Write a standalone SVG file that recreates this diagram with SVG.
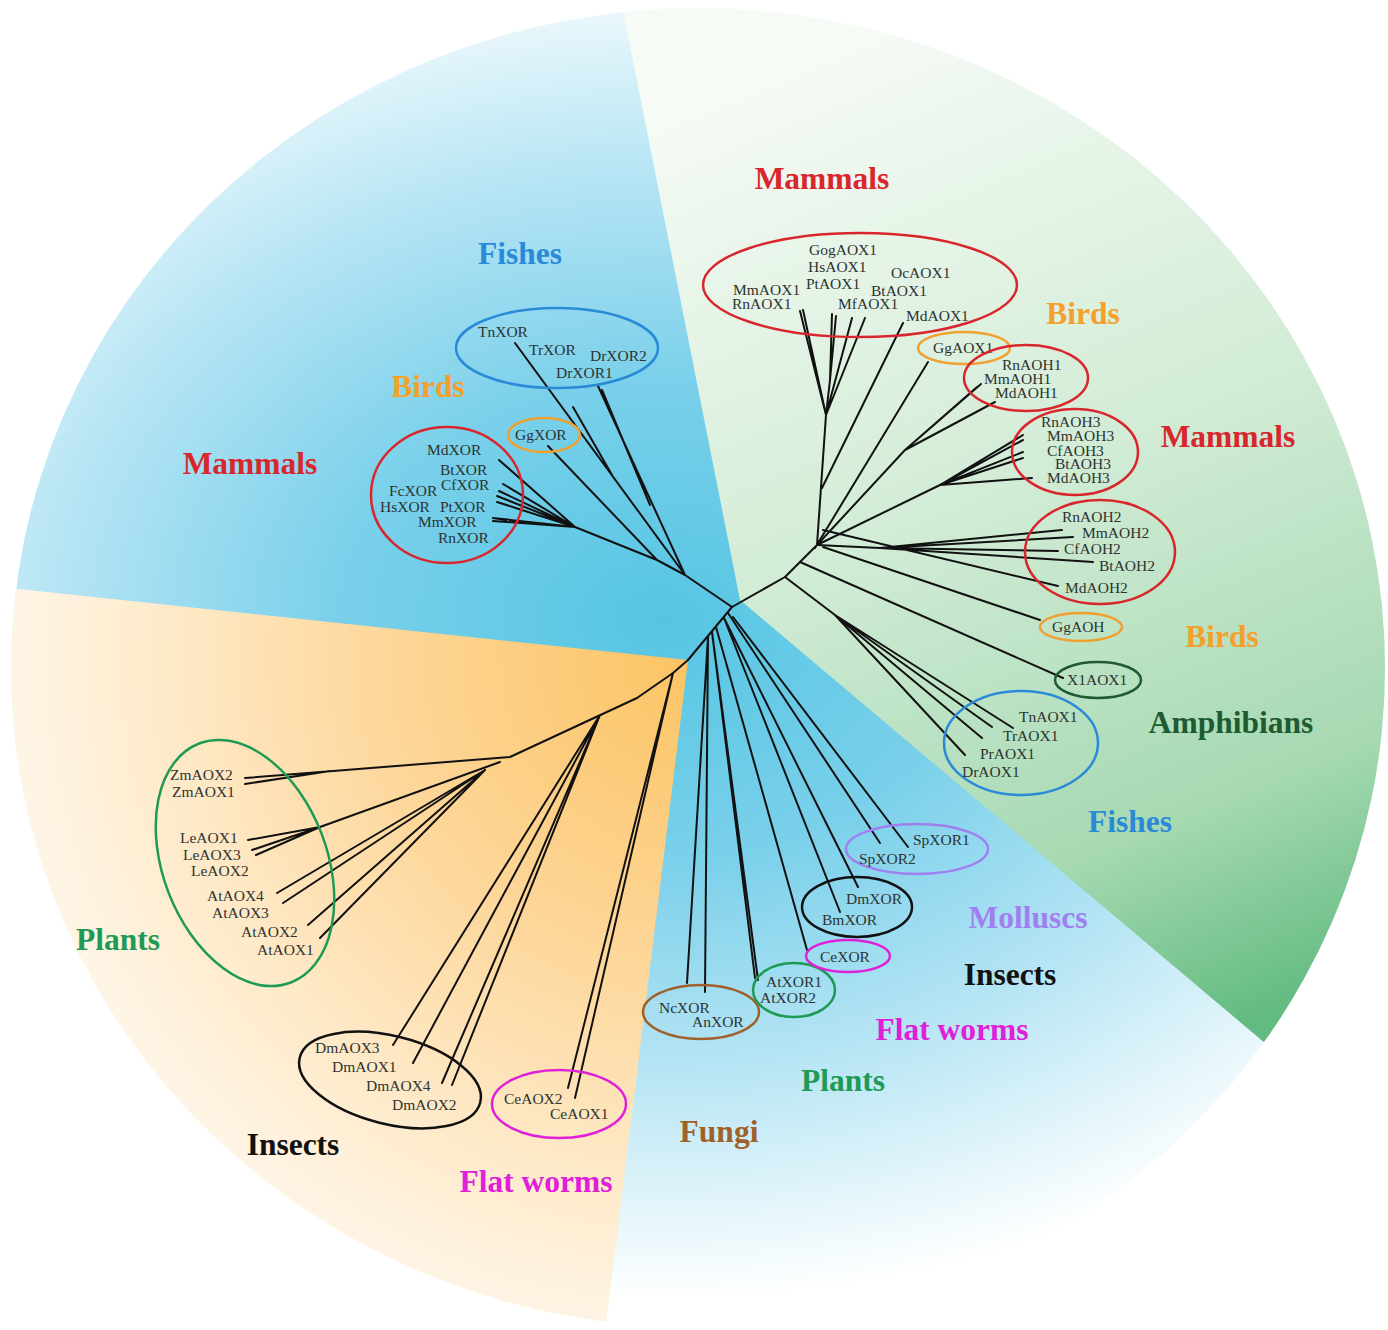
<svg xmlns="http://www.w3.org/2000/svg" width="1388" height="1330" viewBox="0 0 1388 1330">
<defs>
<radialGradient id="gBlue" gradientUnits="userSpaceOnUse" cx="0" cy="0" r="1" gradientTransform="translate(660 620) scale(920 680)">
<stop offset="0" stop-color="#55c5e3"/>
<stop offset="0.35" stop-color="#7ad0ea"/>
<stop offset="0.65" stop-color="#b4e4f4"/>
<stop offset="0.88" stop-color="#e6f6fb"/>
<stop offset="1" stop-color="#ffffff"/>
</radialGradient>
<linearGradient id="gGreen" gradientUnits="userSpaceOnUse" x1="820" y1="40" x2="1230" y2="1030">
<stop offset="0" stop-color="#f6fbf6"/>
<stop offset="0.45" stop-color="#d2ecd6"/>
<stop offset="0.8" stop-color="#a6d9b2"/>
<stop offset="1" stop-color="#62bb80"/>
</linearGradient>
<radialGradient id="gOrange" gradientUnits="userSpaceOnUse" cx="690" cy="660" r="720">
<stop offset="0" stop-color="#fcc463"/>
<stop offset="0.4" stop-color="#fdd596"/>
<stop offset="0.75" stop-color="#feebcc"/>
<stop offset="1" stop-color="#fff8ee"/>
</radialGradient>
<clipPath id="circ"><ellipse cx="698" cy="668" rx="687" ry="660"/></clipPath>
<style>
.leaf{font-family:"Liberation Serif","Times New Roman",serif;font-size:15.5px;fill:#2e3330}
.grp{font-family:"Liberation Serif","Times New Roman",serif;font-size:31.5px;font-weight:bold}
.ring{fill:none;stroke-width:2.5}
.tree{fill:none;stroke:#111;stroke-width:2;stroke-linecap:round;stroke-linejoin:round}
</style>
</defs>
<rect width="1388" height="1330" fill="#ffffff"/>
<g id="background" clip-path="url(#circ)">
<ellipse cx="698" cy="668" rx="687" ry="660" fill="url(#gBlue)"/>
<polygon points="740,600 619,-10 1400,-10 1400,1157" fill="url(#gGreen)"/>
<polygon points="688,660 -10,586 -10,1340 604,1340" fill="url(#gOrange)"/>
</g>
<g id="connectors" class="tree">
<path d="M732,607 L685,575 M685,575 L515,343 M612,475 L573,407 M685,575 L598,386 M650,505 L602,390 M685,575 L657,560 M657,560 L548,446 M657,560 L575,527 M575,527 L499,460 M575,527 L503,484 M575,527 L499,491 M560,521 L497,496 M575,527 L497,502 M575,527 L493,518 M575,527 L493,521 M493,518 L506,520"/>
<path d="M732,607 L785,577 L817,545 M817,545 L826,415 M826,415 L800,311 M826,415 L803,310 M826,415 L830,380 L832,314 M830,380 L836,316 M826,415 L852,318 M826,415 L865,318 M822,488 L903,323 M815,548 L928,362"/>
<path d="M817,545 L905,450 M905,450 L977,387 M905,450 L981,384 M905,450 L995,402 M817,545 L940,485 M940,485 L1023,435 M940,485 L1023,440 M940,485 L1023,452 M940,485 L1023,458 M940,485 L1032,478 M817,545 L880,548 M880,548 L1062,530 M880,548 L1073,537 M880,548 L1058,551 M880,548 L1093,562 M823,530 L1058,586 M823,547 L1040,620 M800,562 L1063,678 M785,577 L835,615 M835,615 L1013,728 M835,615 L992,727 M835,615 L982,738 M835,615 L965,755"/>
<path d="M732,607 L688,660 M728,613 L880,843 M733,617 L908,847 M724,618 L858,887 M724,618 L840,912 M716,627 L807,950 M712,632 L758,980 M712,632 L755,978 M708,637 L705,992 M708,637 L687,983"/>
<path d="M688,660 L673,673 L637,698 L510,757 M673,673 L568,1088 M673,673 L575,1098 M510,757 L245,778 M330,771 L245,784 M500,762 L320,827 L248,840 M320,827 L252,850 M320,827 L256,855 M485,770 L277,893 M485,770 L283,903 M485,770 L308,925 M485,770 L320,938 M600,715 L393,1045 M600,715 L413,1063 M600,715 L442,1083 M600,715 L452,1085"/>
</g>
<g id="n-aox1-mammals">
<ellipse class="ring" cx="860" cy="285" rx="157" ry="52" stroke="#d9262c"/>
<text class="leaf" x="809" y="255">GogAOX1</text>
<text class="leaf" x="808" y="272">HsAOX1</text>
<text class="leaf" x="891" y="278">OcAOX1</text>
<text class="leaf" x="733" y="295">MmAOX1</text>
<text class="leaf" x="806" y="289">PtAOX1</text>
<text class="leaf" x="871" y="296">BtAOX1</text>
<text class="leaf" x="732" y="309">RnAOX1</text>
<text class="leaf" x="838" y="309">MfAOX1</text>
<text class="leaf" x="906" y="321">MdAOX1</text>
</g>
<g id="n-ggaox1">
<ellipse class="ring" cx="964" cy="348" rx="46" ry="16" stroke="#f0a030"/>
<text class="leaf" x="933" y="353">GgAOX1</text>
</g>
<g id="n-aoh1">
<ellipse class="ring" cx="1026" cy="378" rx="62" ry="33" stroke="#d9262c"/>
<text class="leaf" x="1002" y="370">RnAOH1</text>
<text class="leaf" x="984" y="384">MmAOH1</text>
<text class="leaf" x="995" y="398">MdAOH1</text>
</g>
<g id="n-aoh3">
<ellipse class="ring" cx="1075" cy="452" rx="63" ry="43" stroke="#d9262c"/>
<text class="leaf" x="1041" y="427">RnAOH3</text>
<text class="leaf" x="1047" y="441">MmAOH3</text>
<text class="leaf" x="1047" y="456">CfAOH3</text>
<text class="leaf" x="1055" y="469">BtAOH3</text>
<text class="leaf" x="1047" y="483">MdAOH3</text>
</g>
<g id="n-aoh2">
<ellipse class="ring" cx="1100" cy="552" rx="75" ry="52" stroke="#d9262c"/>
<text class="leaf" x="1062" y="522">RnAOH2</text>
<text class="leaf" x="1082" y="538">MmAOH2</text>
<text class="leaf" x="1064" y="554">CfAOH2</text>
<text class="leaf" x="1099" y="571">BtAOH2</text>
<text class="leaf" x="1065" y="593">MdAOH2</text>
</g>
<g id="n-ggaoh">
<ellipse class="ring" cx="1081" cy="627" rx="41" ry="14" stroke="#f0a030"/>
<text class="leaf" x="1052" y="632">GgAOH</text>
</g>
<g id="n-xlaox1">
<ellipse class="ring" cx="1098" cy="680" rx="43" ry="18" stroke="#1e5a32"/>
<text class="leaf" x="1067" y="685">X1AOX1</text>
</g>
<g id="n-fish-aox1">
<ellipse class="ring" cx="1021" cy="743" rx="77" ry="52" stroke="#2a8ad8"/>
<text class="leaf" x="1019" y="722">TnAOX1</text>
<text class="leaf" x="1003" y="741">TrAOX1</text>
<text class="leaf" x="980" y="759">PrAOX1</text>
<text class="leaf" x="962" y="777">DrAOX1</text>
</g>
<g id="n-fish-xor">
<ellipse class="ring" cx="557" cy="348" rx="101" ry="40" stroke="#2a8ad8"/>
<text class="leaf" x="478" y="337">TnXOR</text>
<text class="leaf" x="529" y="355">TrXOR</text>
<text class="leaf" x="590" y="361">DrXOR2</text>
<text class="leaf" x="556" y="378">DrXOR1</text>
</g>
<g id="n-ggxor">
<ellipse class="ring" cx="544" cy="435" rx="36" ry="17" stroke="#f0a030"/>
<text class="leaf" x="515" y="440">GgXOR</text>
</g>
<g id="n-mammal-xor">
<ellipse class="ring" cx="447" cy="495" rx="76" ry="68" stroke="#d9262c"/>
<text class="leaf" x="427" y="455">MdXOR</text>
<text class="leaf" x="440" y="475">BtXOR</text>
<text class="leaf" x="441" y="490">CfXOR</text>
<text class="leaf" x="389" y="496">FcXOR</text>
<text class="leaf" x="380" y="512">HsXOR</text>
<text class="leaf" x="440" y="512">PtXOR</text>
<text class="leaf" x="418" y="527">MmXOR</text>
<text class="leaf" x="438" y="543">RnXOR</text>
</g>
<g id="n-plants-aox">
<ellipse class="ring" cx="245" cy="863" rx="82" ry="128" transform="rotate(-21 245 863)" stroke="#1e9a55"/>
<text class="leaf" x="170" y="780">ZmAOX2</text>
<text class="leaf" x="172" y="797">ZmAOX1</text>
<text class="leaf" x="180" y="843">LeAOX1</text>
<text class="leaf" x="183" y="860">LeAOX3</text>
<text class="leaf" x="191" y="876">LeAOX2</text>
<text class="leaf" x="207" y="901">AtAOX4</text>
<text class="leaf" x="212" y="918">AtAOX3</text>
<text class="leaf" x="241" y="937">AtAOX2</text>
<text class="leaf" x="257" y="955">AtAOX1</text>
</g>
<g id="n-insects-aox">
<ellipse class="ring" cx="390" cy="1080" rx="93" ry="44" transform="rotate(14 390 1080)" stroke="#111"/>
<text class="leaf" x="315" y="1053">DmAOX3</text>
<text class="leaf" x="332" y="1072">DmAOX1</text>
<text class="leaf" x="366" y="1091">DmAOX4</text>
<text class="leaf" x="392" y="1110">DmAOX2</text>
</g>
<g id="n-worm-aox">
<ellipse class="ring" cx="559" cy="1104" rx="67" ry="34" stroke="#e020d8"/>
<text class="leaf" x="504" y="1104">CeAOX2</text>
<text class="leaf" x="550" y="1119">CeAOX1</text>
</g>
<g id="n-fungi-xor">
<ellipse class="ring" cx="701" cy="1012" rx="58" ry="27" stroke="#a0602a"/>
<text class="leaf" x="659" y="1013">NcXOR</text>
<text class="leaf" x="692" y="1027">AnXOR</text>
</g>
<g id="n-plant-xor">
<ellipse class="ring" cx="794" cy="990" rx="41" ry="27" stroke="#1e9a55"/>
<text class="leaf" x="766" y="987">AtXOR1</text>
<text class="leaf" x="760" y="1003">AtXOR2</text>
</g>
<g id="n-worm-xor">
<ellipse class="ring" cx="848" cy="956" rx="42" ry="16" stroke="#e020d8"/>
<text class="leaf" x="820" y="962">CeXOR</text>
</g>
<g id="n-insect-xor">
<ellipse class="ring" cx="857" cy="907" rx="55" ry="30" stroke="#111"/>
<text class="leaf" x="846" y="904">DmXOR</text>
<text class="leaf" x="822" y="925">BmXOR</text>
</g>
<g id="n-mollusc-xor">
<ellipse class="ring" cx="917" cy="849" rx="71" ry="25" stroke="#a080f0"/>
<text class="leaf" x="913" y="845">SpXOR1</text>
<text class="leaf" x="859" y="864">SpXOR2</text>
</g>
<g id="group-labels" class="grp" text-anchor="middle">
<text x="822" y="189" fill="#d9262c">Mammals</text>
<text x="520" y="264" fill="#2a8ad8">Fishes</text>
<text x="428" y="397" fill="#f5a02a">Birds</text>
<text x="250" y="474" fill="#d9262c">Mammals</text>
<text x="1083" y="324" fill="#f5a02a">Birds</text>
<text x="1228" y="447" fill="#d9262c">Mammals</text>
<text x="1222" y="647" fill="#f5a02a">Birds</text>
<text x="1231" y="733" fill="#1e5a32">Amphibians</text>
<text x="1130" y="832" fill="#2a8ad8">Fishes</text>
<text x="1028" y="928" fill="#a080f0">Molluscs</text>
<text x="1010" y="985" fill="#111">Insects</text>
<text x="952" y="1040" fill="#e020d8">Flat worms</text>
<text x="843" y="1091" fill="#1e9a55">Plants</text>
<text x="719" y="1142" fill="#a0602a">Fungi</text>
<text x="536" y="1192" fill="#e020d8">Flat worms</text>
<text x="293" y="1155" fill="#111">Insects</text>
<text x="118" y="950" fill="#1e9a55">Plants</text>
</g>
</svg>
